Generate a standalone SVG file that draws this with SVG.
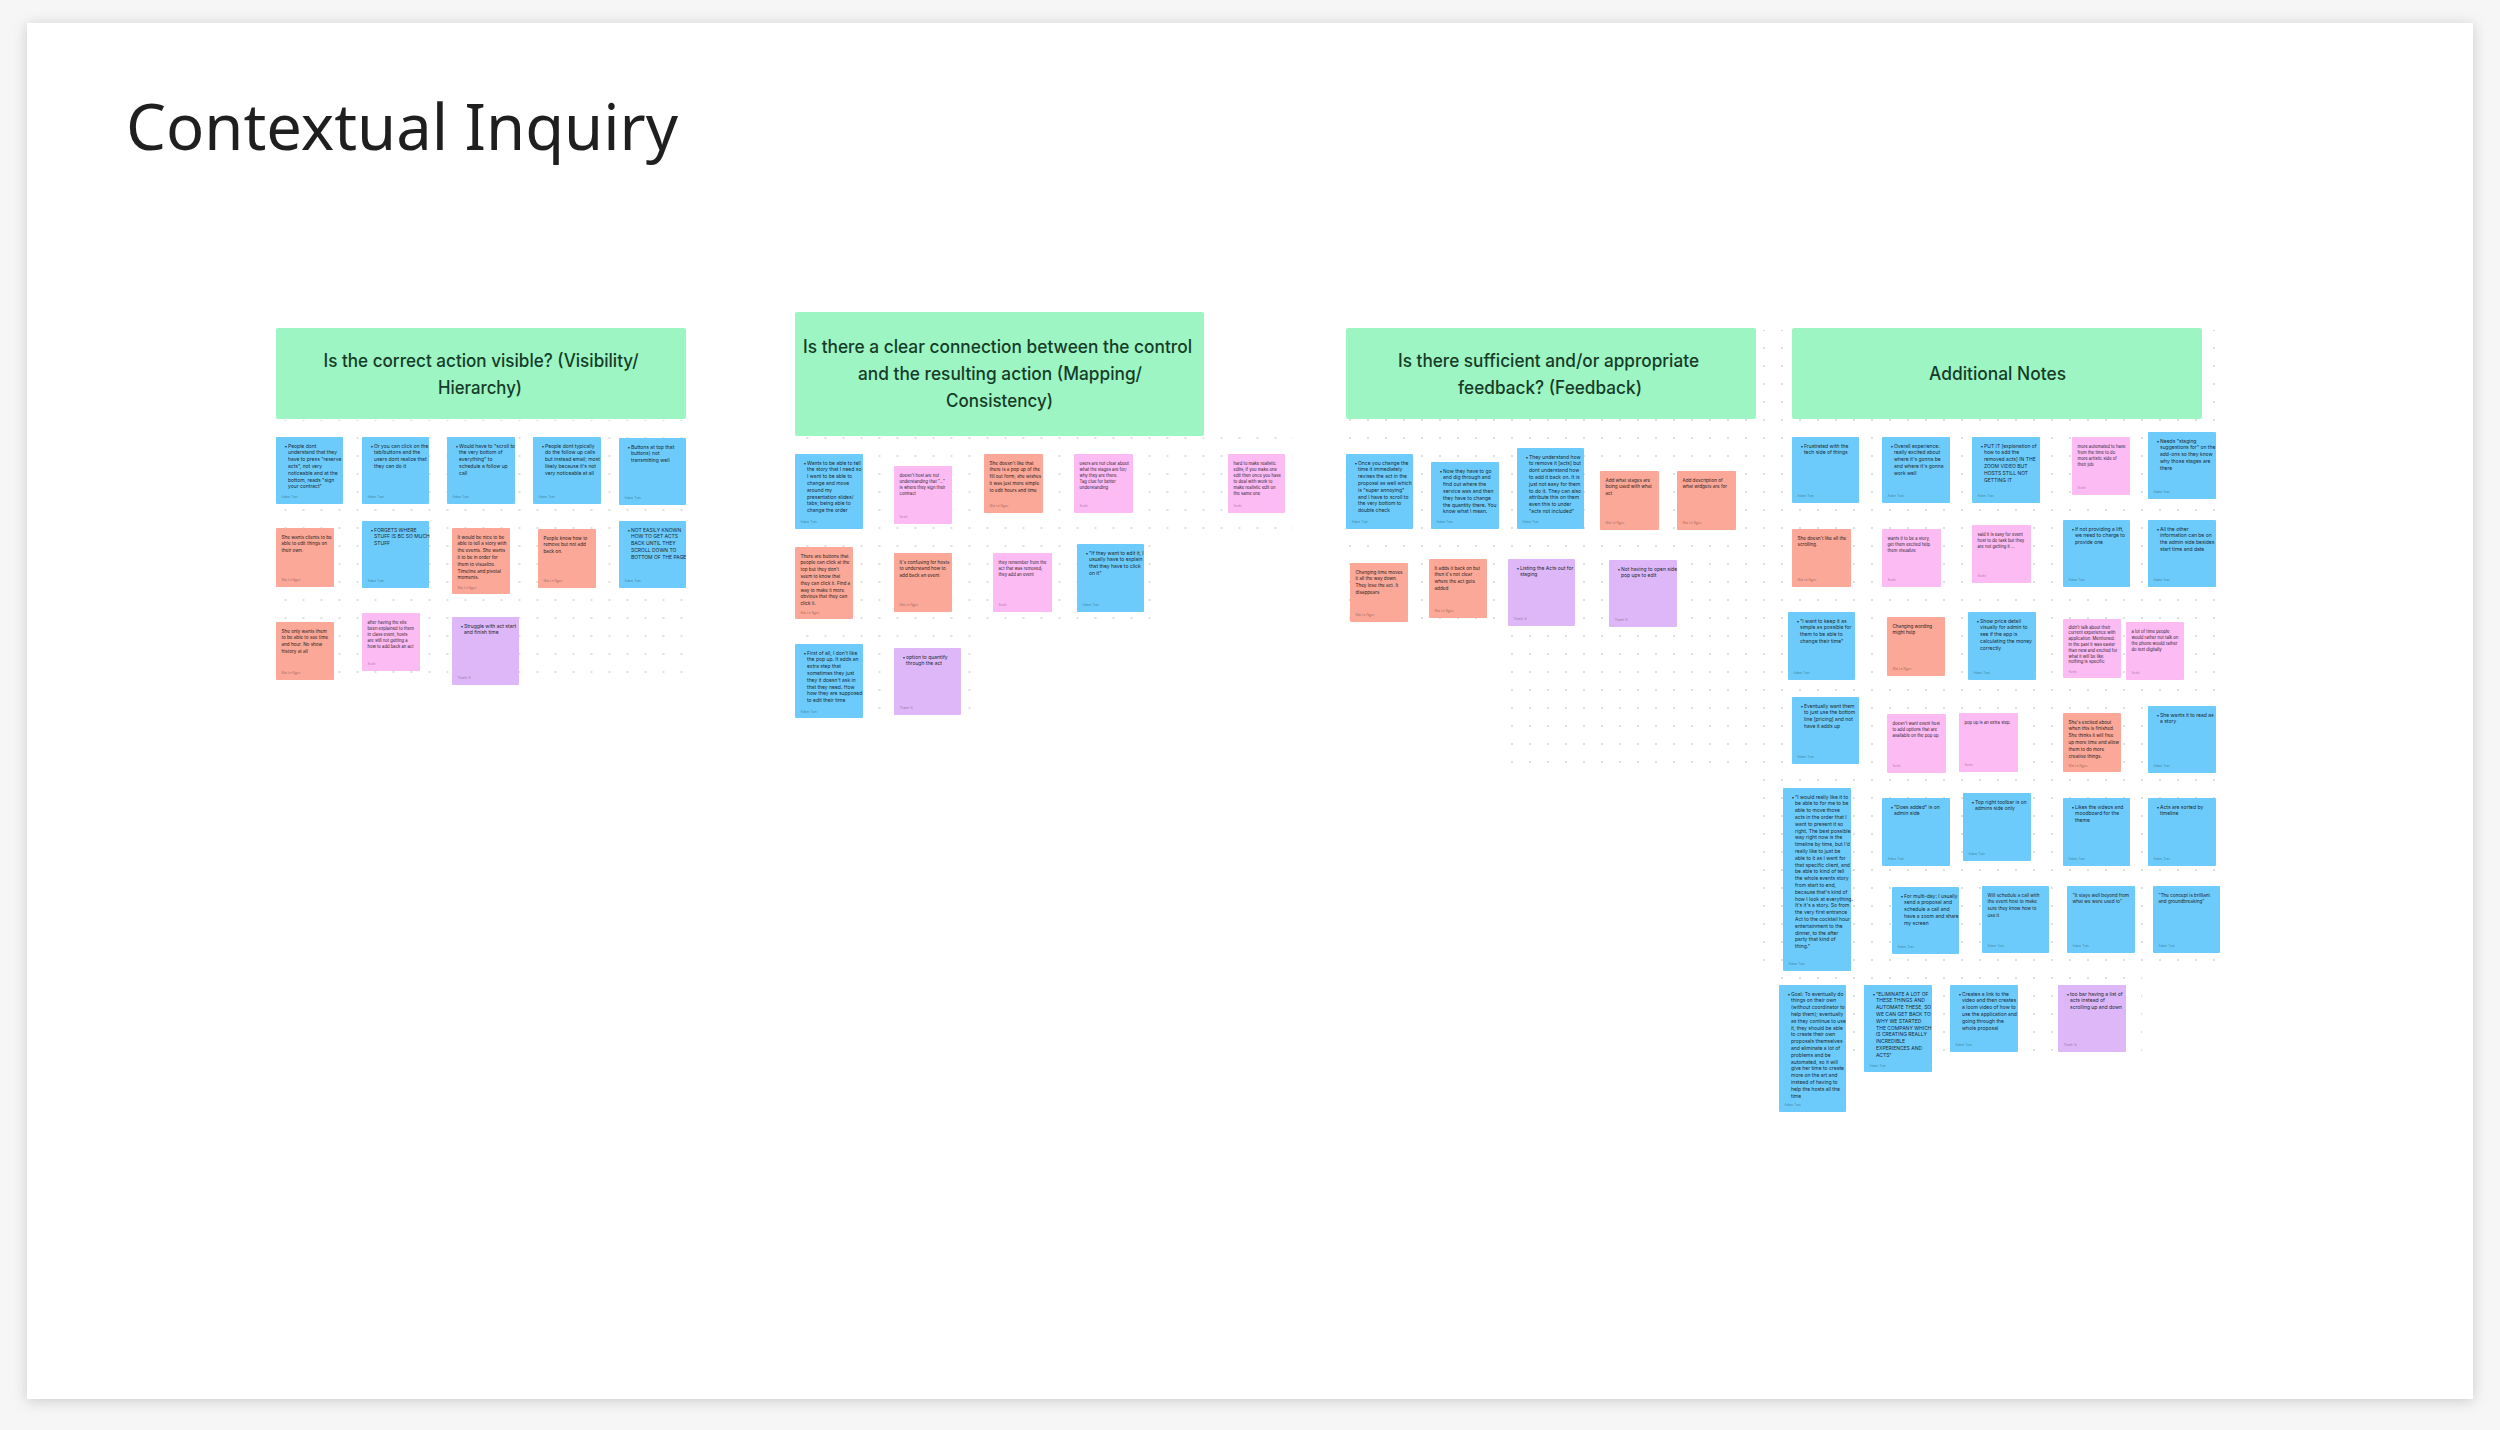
<svg xmlns="http://www.w3.org/2000/svg" width="2500" height="1430" viewBox="0 0 2500 1430">
<defs>
<style>
.hdr{fill:#9cf5c3}
.nb{fill:#6ccbfb}
.ns{fill:#fca898}
.np{fill:#fdbbf4}
.nv{fill:#ddb7f8}
.ht{font-family:Inter,"Liberation Sans",sans-serif;font-size:18px;font-weight:500;fill:#163c28;text-anchor:middle}
.t{font-family:Inter,"Liberation Sans",sans-serif;font-size:5px;fill:#1b2a33}
.s{font-family:Inter,"Liberation Sans",sans-serif;font-size:4.6px;fill:#2a1f1d}
.ps{font-family:Inter,"Liberation Sans",sans-serif;font-size:4.2px;fill:#2e1f2c}
.au{font-family:Inter,"Liberation Sans",sans-serif;font-size:3.2px;fill:#000;fill-opacity:0.4}
.title{font-family:"Noto Sans","Open Sans","Liberation Sans",sans-serif;font-size:64px;fill:#1f1f1f}
</style>
<filter id="cardShadow" x="-5%" y="-5%" width="110%" height="110%">
<feDropShadow dx="0" dy="2" stdDeviation="7" flood-color="#000" flood-opacity="0.18"/>
</filter>
<pattern id="dotsA" patternUnits="userSpaceOnUse" x="6.5" y="-3" width="18" height="18">
<circle cx="9" cy="9" r="1" fill="#d4d4d4"/>
</pattern>
<pattern id="dotsB" patternUnits="userSpaceOnUse" x="-9" y="-3" width="18" height="18">
<circle cx="9" cy="9" r="1" fill="#d4d4d4"/>
</pattern>
</defs>

<rect x="0" y="0" width="2500" height="1430" fill="#f6f6f6"/>
<rect x="27" y="23" width="2446" height="1376" fill="#ffffff" filter="url(#cardShadow)"/>

<text class="title" x="126" y="150" textLength="552" lengthAdjust="spacingAndGlyphs">Contextual Inquiry</text>

<g id="dot-grid">
<rect x="278" y="420" width="412" height="268" fill="url(#dotsA)"/>
<rect x="797" y="437" width="496" height="108" fill="url(#dotsA)"/>
<rect x="797" y="545" width="355" height="80" fill="url(#dotsA)"/>
<rect x="797" y="625" width="178" height="92" fill="url(#dotsA)"/>
<rect x="1340" y="330" width="888" height="298" fill="url(#dotsB)"/>
<rect x="1505" y="628" width="723" height="142" fill="url(#dotsB)"/>
<rect x="1758" y="770" width="470" height="200" fill="url(#dotsB)"/>
<rect x="1776" y="970" width="366" height="90" fill="url(#dotsB)"/>
</g>

<g id="connectors"/>

<!-- Section 1 -->
<g id="sec1-header">
<rect class="hdr" x="276" y="328" width="410" height="91" rx="2"/>
<text class="ht" x="481" y="367" textLength="315" lengthAdjust="spacingAndGlyphs">Is the correct action visible? (Visibility/</text>
<text class="ht" x="480" y="394" textLength="84" lengthAdjust="spacingAndGlyphs">Hierarchy)</text>
</g>
<g id="sec1-n01"><rect class="nb" x="276" y="437" width="67" height="67" rx="1"/><text class="t" x="284.5" y="447.5">•</text><text class="t" x="288" y="447.5"><tspan x="288">People dont</tspan><tspan x="288" dy="6.8">understand that they</tspan><tspan x="288" dy="6.8">have to press "reserve</tspan><tspan x="288" dy="6.8">acts", not very</tspan><tspan x="288" dy="6.8">noticeable and at the</tspan><tspan x="288" dy="6.8">bottom, reads "sign</tspan><tspan x="288" dy="6.8">your contract"</tspan></text><text class="au" x="281.5" y="497.5">Adam Tran</text></g>
<g id="sec1-n02"><rect class="nb" x="362" y="437" width="67" height="67" rx="1"/><text class="t" x="370.5" y="447.5">•</text><text class="t" x="374" y="447.5"><tspan x="374">Or you can click on the</tspan><tspan x="374" dy="6.8">tab/buttons and the</tspan><tspan x="374" dy="6.8">users dont realize that</tspan><tspan x="374" dy="6.8">they can do it</tspan></text><text class="au" x="367.5" y="497.5">Adam Tran</text></g>
<g id="sec1-n03"><rect class="nb" x="447" y="437" width="68" height="67" rx="1"/><text class="t" x="455.5" y="447.5">•</text><text class="t" x="459" y="447.5"><tspan x="459">Would have to "scroll to</tspan><tspan x="459" dy="6.8">the very bottom of</tspan><tspan x="459" dy="6.8">everything" to</tspan><tspan x="459" dy="6.8">schedule a follow up</tspan><tspan x="459" dy="6.8">call</tspan></text><text class="au" x="452.5" y="497.5">Adam Tran</text></g>
<g id="sec1-n04"><rect class="nb" x="533" y="437" width="68" height="67" rx="1"/><text class="t" x="541.5" y="447.5">•</text><text class="t" x="545" y="447.5"><tspan x="545">People dont typically</tspan><tspan x="545" dy="6.8">do the follow up calls</tspan><tspan x="545" dy="6.8">but instead email; most</tspan><tspan x="545" dy="6.8">likely because it's not</tspan><tspan x="545" dy="6.8">very noticeable at all</tspan></text><text class="au" x="538.5" y="497.5">Adam Tran</text></g>
<g id="sec1-n05"><rect class="nb" x="619" y="438" width="67" height="67" rx="1"/><text class="t" x="627.5" y="448.5">•</text><text class="t" x="631" y="448.5"><tspan x="631">Buttons at top that</tspan><tspan x="631" dy="6.8">buttons) not</tspan><tspan x="631" dy="6.8">transmitting well</tspan></text><text class="au" x="624.5" y="498.5">Adam Tran</text></g>
<g id="sec1-n06"><rect class="ns" x="276" y="528" width="58" height="59" rx="1"/><text class="s" x="281.5" y="538.5"><tspan x="281.5">She wants clients to be</tspan><tspan x="281.5" dy="6.8">able to edit things on</tspan><tspan x="281.5" dy="6.8">their own.</tspan></text><text class="au" x="281.5" y="580.5">Mai Le Ngoc</text></g>
<g id="sec1-n07"><rect class="nb" x="362" y="521" width="67" height="67" rx="1"/><text class="t" x="370.5" y="531.5">•</text><text class="t" x="374" y="531.5"><tspan x="374">FORGETS WHERE</tspan><tspan x="374" dy="6.8">STUFF IS BC SO MUCH</tspan><tspan x="374" dy="6.8">STUFF</tspan></text><text class="au" x="367.5" y="581.5">Adam Tran</text></g>
<g id="sec1-n08"><rect class="ns" x="452" y="528" width="58" height="66" rx="1"/><text class="s" x="457.5" y="538.5"><tspan x="457.5">It would be nice to be</tspan><tspan x="457.5" dy="6.8">able to tell a story with</tspan><tspan x="457.5" dy="6.8">the events. She wants</tspan><tspan x="457.5" dy="6.8">it to be in order for</tspan><tspan x="457.5" dy="6.8">them to visualize.</tspan><tspan x="457.5" dy="6.8">Timeline and pivotal</tspan><tspan x="457.5" dy="6.8">moments.</tspan></text><text class="au" x="457.5" y="589">Mai Le Ngoc</text></g>
<g id="sec1-n09"><rect class="ns" x="538" y="529" width="58" height="59" rx="1"/><text class="s" x="543.5" y="539.5"><tspan x="543.5">People know how to</tspan><tspan x="543.5" dy="6.8">remove but not add</tspan><tspan x="543.5" dy="6.8">back on.</tspan></text><text class="au" x="543.5" y="581.5">Mai Le Ngoc</text></g>
<g id="sec1-n10"><rect class="nb" x="619" y="521" width="67" height="67" rx="1"/><text class="t" x="627.5" y="531.5">•</text><text class="t" x="631" y="531.5"><tspan x="631">NOT EASILY KNOWN</tspan><tspan x="631" dy="6.8">HOW TO GET ACTS</tspan><tspan x="631" dy="6.8">BACK UNTIL THEY</tspan><tspan x="631" dy="6.8">SCROLL DOWN TO</tspan><tspan x="631" dy="6.8">BOTTOM OF THE PAGE</tspan></text><text class="au" x="624.5" y="581.5">Adam Tran</text></g>
<g id="sec1-n11"><rect class="ns" x="276" y="622" width="58" height="58" rx="1"/><text class="s" x="281.5" y="632.5"><tspan x="281.5">She only wants them</tspan><tspan x="281.5" dy="6.8">to be able to see time</tspan><tspan x="281.5" dy="6.8">and hour. No show</tspan><tspan x="281.5" dy="6.8">history at all</tspan></text><text class="au" x="281.5" y="673.5">Mai Le Ngoc</text></g>
<g id="sec1-n12"><rect class="np" x="362" y="613" width="58" height="58" rx="1"/><text class="ps" x="367.5" y="623.5"><tspan x="367.5">after having the site</tspan><tspan x="367.5" dy="6">been explained to them</tspan><tspan x="367.5" dy="6">in class event, hosts</tspan><tspan x="367.5" dy="6">are still not getting a</tspan><tspan x="367.5" dy="6">how to add back an act</tspan></text><text class="au" x="367.5" y="664.5">Sushi</text></g>
<g id="sec1-n13"><rect class="nv" x="452" y="617" width="67" height="68" rx="1"/><text class="t" x="460.5" y="627.5">•</text><text class="t" x="464" y="627.5"><tspan x="464">Struggle with act start</tspan><tspan x="464" dy="6.8">and finish time</tspan></text><text class="au" x="457.5" y="678.5">Thanh Vi</text></g>

<!-- Section 2 -->
<g id="sec2-header">
<rect class="hdr" x="795" y="312" width="409" height="124" rx="2"/>
<text class="ht" x="997.5" y="353" textLength="389" lengthAdjust="spacingAndGlyphs">Is there a clear connection between the control</text>
<text class="ht" x="1000" y="380" textLength="284" lengthAdjust="spacingAndGlyphs">and the resulting action (Mapping/</text>
<text class="ht" x="999.5" y="407" textLength="107" lengthAdjust="spacingAndGlyphs">Consistency)</text>
</g>
<g id="sec2-n01"><rect class="nb" x="795" y="454" width="68" height="75" rx="1"/><text class="t" x="803.5" y="464.5">•</text><text class="t" x="807" y="464.5"><tspan x="807">Wants to be able to tell</tspan><tspan x="807" dy="6.8">the story that I need so</tspan><tspan x="807" dy="6.8">I want to be able to</tspan><tspan x="807" dy="6.8">change and move</tspan><tspan x="807" dy="6.8">around my</tspan><tspan x="807" dy="6.8">presentation slides/</tspan><tspan x="807" dy="6.8">tabs; being able to</tspan><tspan x="807" dy="6.8">change the order</tspan></text><text class="au" x="800.5" y="522.5">Adam Tran</text></g>
<g id="sec2-n02"><rect class="np" x="894" y="466" width="58" height="58" rx="1"/><text class="ps" x="899.5" y="476.5"><tspan x="899.5">doesn't host are not</tspan><tspan x="899.5" dy="6">understanding that "..."</tspan><tspan x="899.5" dy="6">is where they sign their</tspan><tspan x="899.5" dy="6">contract</tspan></text><text class="au" x="899.5" y="517.5">Sushi</text></g>
<g id="sec2-n03"><rect class="ns" x="984" y="454" width="59" height="59" rx="1"/><text class="s" x="989.5" y="464.5"><tspan x="989.5">She doesn't like that</tspan><tspan x="989.5" dy="6.8">there is a pop up of the</tspan><tspan x="989.5" dy="6.8">fill out form; she wishes</tspan><tspan x="989.5" dy="6.8">it was just more simple</tspan><tspan x="989.5" dy="6.8">to edit hours and time</tspan></text><text class="au" x="989.5" y="506.5">Mai Le Ngoc</text></g>
<g id="sec2-n04"><rect class="np" x="1074" y="454" width="59" height="59" rx="1"/><text class="ps" x="1079.5" y="464.5"><tspan x="1079.5">users are not clear about</tspan><tspan x="1079.5" dy="6">what the stages are for/</tspan><tspan x="1079.5" dy="6">why they are there.</tspan><tspan x="1079.5" dy="6">Tag clue for better</tspan><tspan x="1079.5" dy="6">understanding</tspan></text><text class="au" x="1079.5" y="506.5">Sushi</text></g>
<g id="sec2-n05"><rect class="np" x="1228" y="454" width="57" height="59" rx="1"/><text class="ps" x="1233.5" y="464.5"><tspan x="1233.5">hard to make realistic</tspan><tspan x="1233.5" dy="6">edits; if you make one</tspan><tspan x="1233.5" dy="6">edit then once you have</tspan><tspan x="1233.5" dy="6">to deal with work to</tspan><tspan x="1233.5" dy="6">make realistic edit on</tspan><tspan x="1233.5" dy="6">the same one</tspan></text><text class="au" x="1233.5" y="506.5">Sushi</text></g>
<g id="sec2-n06"><rect class="ns" x="795" y="547" width="58" height="72" rx="1"/><text class="s" x="800.5" y="557.5"><tspan x="800.5">There are buttons that</tspan><tspan x="800.5" dy="6.8">people can click at the</tspan><tspan x="800.5" dy="6.8">top but they don't</tspan><tspan x="800.5" dy="6.8">seem to know that</tspan><tspan x="800.5" dy="6.8">they can click it. Find a</tspan><tspan x="800.5" dy="6.8">way to make it more</tspan><tspan x="800.5" dy="6.8">obvious that they can</tspan><tspan x="800.5" dy="6.8">click it.</tspan></text><text class="au" x="800.5" y="613.5">Mai Le Ngoc</text></g>
<g id="sec2-n07"><rect class="ns" x="894" y="553" width="58" height="59" rx="1"/><text class="s" x="899.5" y="563.5"><tspan x="899.5">It's confusing for hosts</tspan><tspan x="899.5" dy="6.8">to understand how to</tspan><tspan x="899.5" dy="6.8">add back an event</tspan></text><text class="au" x="899.5" y="605.5">Mai Le Ngoc</text></g>
<g id="sec2-n08"><rect class="np" x="993" y="553" width="59" height="59" rx="1"/><text class="ps" x="998.5" y="563.5"><tspan x="998.5">they remember from the</tspan><tspan x="998.5" dy="6">act that was removed;</tspan><tspan x="998.5" dy="6">they add an event</tspan></text><text class="au" x="998.5" y="605.5">Sushi</text></g>
<g id="sec2-n09"><rect class="nb" x="1077" y="544" width="67" height="68" rx="1"/><text class="t" x="1085.5" y="554.5">•</text><text class="t" x="1089" y="554.5"><tspan x="1089">"If they want to edit it, I</tspan><tspan x="1089" dy="6.8">usually have to explain</tspan><tspan x="1089" dy="6.8">that they have to click</tspan><tspan x="1089" dy="6.8">on it"</tspan></text><text class="au" x="1082.5" y="605.5">Adam Tran</text></g>
<g id="sec2-n10"><rect class="nb" x="795" y="644" width="68" height="74" rx="1"/><text class="t" x="803.5" y="654.5">•</text><text class="t" x="807" y="654.5"><tspan x="807">First of all, I don't like</tspan><tspan x="807" dy="6.8">the pop up. It adds an</tspan><tspan x="807" dy="6.8">extra step that</tspan><tspan x="807" dy="6.8">sometimes they just</tspan><tspan x="807" dy="6.8">they it doesn't ask in</tspan><tspan x="807" dy="6.8">that they need. How</tspan><tspan x="807" dy="6.8">how they are supposed</tspan><tspan x="807" dy="6.8">to edit their time</tspan></text><text class="au" x="800.5" y="712.5">Adam Tran</text></g>
<g id="sec2-n11"><rect class="nv" x="894" y="648" width="67" height="67" rx="1"/><text class="t" x="902.5" y="658.5">•</text><text class="t" x="906" y="658.5"><tspan x="906">option to quantify</tspan><tspan x="906" dy="6.8">through the act</tspan></text><text class="au" x="899.5" y="708.5">Thanh Vi</text></g>

<!-- Section 3 -->
<g id="sec3-header">
<rect class="hdr" x="1346" y="328" width="410" height="91" rx="2"/>
<text class="ht" x="1548.5" y="367" textLength="301" lengthAdjust="spacingAndGlyphs">Is there sufficient and/or appropriate</text>
<text class="ht" x="1550" y="394" textLength="184" lengthAdjust="spacingAndGlyphs">feedback? (Feedback)</text>
</g>
<g id="sec3-n01"><rect class="nb" x="1346" y="454" width="67" height="75" rx="1"/><text class="t" x="1354.5" y="464.5">•</text><text class="t" x="1358" y="464.5"><tspan x="1358">Once you change the</tspan><tspan x="1358" dy="6.8">time it immediately</tspan><tspan x="1358" dy="6.8">revises the act in the</tspan><tspan x="1358" dy="6.8">proposal as well which</tspan><tspan x="1358" dy="6.8">is "super annoying"</tspan><tspan x="1358" dy="6.8">and I have to scroll to</tspan><tspan x="1358" dy="6.8">the very bottom to</tspan><tspan x="1358" dy="6.8">double check</tspan></text><text class="au" x="1351.5" y="523">Adam Tran</text></g>
<g id="sec3-n02"><rect class="nb" x="1431" y="462" width="68" height="67" rx="1"/><text class="t" x="1439.5" y="472.5">•</text><text class="t" x="1443" y="472.5"><tspan x="1443">Now they have to go</tspan><tspan x="1443" dy="6.8">and dig through and</tspan><tspan x="1443" dy="6.8">find out where the</tspan><tspan x="1443" dy="6.8">service was and then</tspan><tspan x="1443" dy="6.8">they have to change</tspan><tspan x="1443" dy="6.8">the quantity there. You</tspan><tspan x="1443" dy="6.8">know what I mean.</tspan></text><text class="au" x="1436.5" y="523">Adam Tran</text></g>
<g id="sec3-n03"><rect class="nb" x="1517" y="448" width="67" height="81" rx="1"/><text class="t" x="1525.5" y="458.5">•</text><text class="t" x="1529" y="458.5"><tspan x="1529">They understand how</tspan><tspan x="1529" dy="6.8">to remove it [acts] but</tspan><tspan x="1529" dy="6.8">dont understand how</tspan><tspan x="1529" dy="6.8">to add it back on. It is</tspan><tspan x="1529" dy="6.8">just not easy for them</tspan><tspan x="1529" dy="6.8">to do it. They can also</tspan><tspan x="1529" dy="6.8">attribute this on them</tspan><tspan x="1529" dy="6.8">even this to under</tspan><tspan x="1529" dy="6.8">"acts not included"</tspan></text><text class="au" x="1522.5" y="523">Adam Tran</text></g>
<g id="sec3-n04"><rect class="ns" x="1600" y="471" width="59" height="59" rx="1"/><text class="s" x="1605.5" y="481.5"><tspan x="1605.5">Add what stages are</tspan><tspan x="1605.5" dy="6.8">being used with what</tspan><tspan x="1605.5" dy="6.8">act</tspan></text><text class="au" x="1605.5" y="523.5">Mai Le Ngoc</text></g>
<g id="sec3-n05"><rect class="ns" x="1677" y="471" width="59" height="59" rx="1"/><text class="s" x="1682.5" y="481.5"><tspan x="1682.5">Add description of</tspan><tspan x="1682.5" dy="6.8">what widgets are for</tspan></text><text class="au" x="1682.5" y="523.5">Mai Le Ngoc</text></g>
<g id="sec3-n06"><rect class="ns" x="1350" y="563" width="58" height="59" rx="1"/><text class="s" x="1355.5" y="573.5"><tspan x="1355.5">Changing time moves</tspan><tspan x="1355.5" dy="6.8">it all the way down.</tspan><tspan x="1355.5" dy="6.8">They lose the act. It</tspan><tspan x="1355.5" dy="6.8">disappears</tspan></text><text class="au" x="1355.5" y="615.5">Mai Le Ngoc</text></g>
<g id="sec3-n07"><rect class="ns" x="1429" y="559" width="58" height="59" rx="1"/><text class="s" x="1434.5" y="569.5"><tspan x="1434.5">It adds it back on but</tspan><tspan x="1434.5" dy="6.8">then it's not clear</tspan><tspan x="1434.5" dy="6.8">where the act gets</tspan><tspan x="1434.5" dy="6.8">added</tspan></text><text class="au" x="1434.5" y="611.5">Mai Le Ngoc</text></g>
<g id="sec3-n08"><rect class="nv" x="1508" y="559" width="67" height="67" rx="1"/><text class="t" x="1516.5" y="569.5">•</text><text class="t" x="1520" y="569.5"><tspan x="1520">Listing the Acts out for</tspan><tspan x="1520" dy="6.8">staging</tspan></text><text class="au" x="1513.5" y="619.5">Thanh Vi</text></g>
<g id="sec3-n09"><rect class="nv" x="1609" y="560" width="68" height="67" rx="1"/><text class="t" x="1617.5" y="570.5">•</text><text class="t" x="1621" y="570.5"><tspan x="1621">Not having to open side</tspan><tspan x="1621" dy="6.8">pop ups to edit</tspan></text><text class="au" x="1614.5" y="620.5">Thanh Vi</text></g>

<!-- Section 4 -->
<g id="sec4-header">
<rect class="hdr" x="1792" y="328" width="410" height="91" rx="2"/>
<text class="ht" x="1997.5" y="380" textLength="137" lengthAdjust="spacingAndGlyphs">Additional Notes</text>
</g>
<g id="sec4-n01"><rect class="nb" x="1792" y="437" width="67" height="66" rx="1"/><text class="t" x="1800.5" y="447.5">•</text><text class="t" x="1804" y="447.5"><tspan x="1804">Frustrated with the</tspan><tspan x="1804" dy="6.8">tech side of things</tspan></text><text class="au" x="1797.5" y="496.5">Adam Tran</text></g>
<g id="sec4-n02"><rect class="nb" x="1882" y="437" width="68" height="66" rx="1"/><text class="t" x="1890.5" y="447.5">•</text><text class="t" x="1894" y="447.5"><tspan x="1894">Overall experience:</tspan><tspan x="1894" dy="6.8">really excited about</tspan><tspan x="1894" dy="6.8">where it's gonna be</tspan><tspan x="1894" dy="6.8">and where it's gonna</tspan><tspan x="1894" dy="6.8">work well</tspan></text><text class="au" x="1887.5" y="496.5">Adam Tran</text></g>
<g id="sec4-n03"><rect class="nb" x="1972" y="437" width="68" height="66" rx="1"/><text class="t" x="1980.5" y="447.5">•</text><text class="t" x="1984" y="447.5"><tspan x="1984">PUT IT [explanation of</tspan><tspan x="1984" dy="6.8">how to add the</tspan><tspan x="1984" dy="6.8">removed acts] IN THE</tspan><tspan x="1984" dy="6.8">ZOOM VIDEO BUT</tspan><tspan x="1984" dy="6.8">HOSTS STILL NOT</tspan><tspan x="1984" dy="6.8">GETTING IT</tspan></text><text class="au" x="1977.5" y="496.5">Adam Tran</text></g>
<g id="sec4-n04"><rect class="np" x="2072" y="437" width="58" height="58" rx="1"/><text class="ps" x="2077.5" y="447.5"><tspan x="2077.5">more automated to have</tspan><tspan x="2077.5" dy="6">from the time to do</tspan><tspan x="2077.5" dy="6">more artistic side of</tspan><tspan x="2077.5" dy="6">their job</tspan></text><text class="au" x="2077.5" y="488.5">Sushi</text></g>
<g id="sec4-n05"><rect class="nb" x="2148" y="432" width="68" height="67" rx="1"/><text class="t" x="2156.5" y="442.5">•</text><text class="t" x="2160" y="442.5"><tspan x="2160">Needs "staging</tspan><tspan x="2160" dy="6.8">suggestions for" on the</tspan><tspan x="2160" dy="6.8">add-ons so they know</tspan><tspan x="2160" dy="6.8">why those stages are</tspan><tspan x="2160" dy="6.8">there</tspan></text><text class="au" x="2153.5" y="492.5">Adam Tran</text></g>
<g id="sec4-n06"><rect class="ns" x="1792" y="529" width="59" height="58" rx="1"/><text class="s" x="1797.5" y="539.5"><tspan x="1797.5">She doesn't like all the</tspan><tspan x="1797.5" dy="6.8">scrolling.</tspan></text><text class="au" x="1797.5" y="580.5">Mai Le Ngoc</text></g>
<g id="sec4-n07"><rect class="np" x="1882" y="529" width="59" height="58" rx="1"/><text class="ps" x="1887.5" y="539.5"><tspan x="1887.5">wants it to be a story,</tspan><tspan x="1887.5" dy="6">get them excited help</tspan><tspan x="1887.5" dy="6">them visualize</tspan></text><text class="au" x="1887.5" y="580.5">Sushi</text></g>
<g id="sec4-n08"><rect class="np" x="1972" y="525" width="59" height="58" rx="1"/><text class="ps" x="1977.5" y="535.5"><tspan x="1977.5">said it is easy for event</tspan><tspan x="1977.5" dy="6">host to do task but they</tspan><tspan x="1977.5" dy="6">are not getting it ...</tspan></text><text class="au" x="1977.5" y="576.5">Sushi</text></g>
<g id="sec4-n09"><rect class="nb" x="2063" y="520" width="67" height="67" rx="1"/><text class="t" x="2071.5" y="530.5">•</text><text class="t" x="2075" y="530.5"><tspan x="2075">If not providing a lift,</tspan><tspan x="2075" dy="6.8">we need to charge to</tspan><tspan x="2075" dy="6.8">provide one</tspan></text><text class="au" x="2068.5" y="580.5">Adam Tran</text></g>
<g id="sec4-n10"><rect class="nb" x="2148" y="520" width="68" height="67" rx="1"/><text class="t" x="2156.5" y="530.5">•</text><text class="t" x="2160" y="530.5"><tspan x="2160">All the other</tspan><tspan x="2160" dy="6.8">information can be on</tspan><tspan x="2160" dy="6.8">the admin side besides</tspan><tspan x="2160" dy="6.8">start time and date</tspan></text><text class="au" x="2153.5" y="580.5">Adam Tran</text></g>
<g id="sec4-n11"><rect class="nb" x="1788" y="612" width="67" height="68" rx="1"/><text class="t" x="1796.5" y="622.5">•</text><text class="t" x="1800" y="622.5"><tspan x="1800">"I want to keep it as</tspan><tspan x="1800" dy="6.8">simple as possible for</tspan><tspan x="1800" dy="6.8">them to be able to</tspan><tspan x="1800" dy="6.8">change their time"</tspan></text><text class="au" x="1793.5" y="673.5">Adam Tran</text></g>
<g id="sec4-n12"><rect class="ns" x="1887" y="617" width="58" height="59" rx="1"/><text class="s" x="1892.5" y="627.5"><tspan x="1892.5">Changing wording</tspan><tspan x="1892.5" dy="6.8">might help</tspan></text><text class="au" x="1892.5" y="669.5">Mai Le Ngoc</text></g>
<g id="sec4-n13"><rect class="nb" x="1968" y="612" width="68" height="68" rx="1"/><text class="t" x="1976.5" y="622.5">•</text><text class="t" x="1980" y="622.5"><tspan x="1980">Show price detail</tspan><tspan x="1980" dy="6.8">visually for admin to</tspan><tspan x="1980" dy="6.8">see if the app is</tspan><tspan x="1980" dy="6.8">calculating the money</tspan><tspan x="1980" dy="6.8">correctly</tspan></text><text class="au" x="1973.5" y="673.5">Adam Tran</text></g>
<g id="sec4-n14"><rect class="np" x="2063" y="619" width="58" height="59" rx="1"/><text class="ps" x="2068.5" y="628.5"><tspan x="2068.5">didn't talk about their</tspan><tspan x="2068.5" dy="5.8">current experience with</tspan><tspan x="2068.5" dy="5.8">application. Mentioned:</tspan><tspan x="2068.5" dy="5.8">in the past it was easier</tspan><tspan x="2068.5" dy="5.8">than new and excited for</tspan><tspan x="2068.5" dy="5.8">what it will be like</tspan><tspan x="2068.5" dy="5.8">nothing is specific</tspan></text><text class="au" x="2068.5" y="672.5">Sushi</text></g>
<g id="sec4-n15"><rect class="np" x="2126" y="622" width="58" height="58" rx="1"/><text class="ps" x="2131.5" y="632.5"><tspan x="2131.5">a lot of time people</tspan><tspan x="2131.5" dy="6">would rather not talk on</tspan><tspan x="2131.5" dy="6">the phone would rather</tspan><tspan x="2131.5" dy="6">do text digitally</tspan></text><text class="au" x="2131.5" y="673.5">Sushi</text></g>
<g id="sec4-n16"><rect class="nb" x="1792" y="697" width="67" height="67" rx="1"/><text class="t" x="1800.5" y="707.5">•</text><text class="t" x="1804" y="707.5"><tspan x="1804">Eventually want them</tspan><tspan x="1804" dy="6.8">to just use the bottom</tspan><tspan x="1804" dy="6.8">line [pricing] and not</tspan><tspan x="1804" dy="6.8">have it adds up</tspan></text><text class="au" x="1797.5" y="757.5">Adam Tran</text></g>
<g id="sec4-n17"><rect class="np" x="1887" y="714" width="59" height="59" rx="1"/><text class="ps" x="1892.5" y="724.5"><tspan x="1892.5">doesn't want event host</tspan><tspan x="1892.5" dy="6">to add options that are</tspan><tspan x="1892.5" dy="6">available on the pop up</tspan></text><text class="au" x="1892.5" y="766.5">Sushi</text></g>
<g id="sec4-n18"><rect class="np" x="1959" y="713" width="59" height="59" rx="1"/><text class="ps" x="1964.5" y="723.5">pop up is an extra step</text><text class="au" x="1964.5" y="765.5">Sushi</text></g>
<g id="sec4-n19"><rect class="ns" x="2063" y="713" width="58" height="59" rx="1"/><text class="s" x="2068.5" y="723.5"><tspan x="2068.5">She's excited about</tspan><tspan x="2068.5" dy="6.8">when this is finished.</tspan><tspan x="2068.5" dy="6.8">She thinks it will free</tspan><tspan x="2068.5" dy="6.8">up more time and allow</tspan><tspan x="2068.5" dy="6.8">them to do more</tspan><tspan x="2068.5" dy="6.8">creative things.</tspan></text><text class="au" x="2068.5" y="766.5">Mai Le Ngoc</text></g>
<g id="sec4-n20"><rect class="nb" x="2148" y="706" width="68" height="67" rx="1"/><text class="t" x="2156.5" y="716.5">•</text><text class="t" x="2160" y="716.5"><tspan x="2160">She wants it to read as</tspan><tspan x="2160" dy="6.8">a story</tspan></text><text class="au" x="2153.5" y="766.5">Adam Tran</text></g>
<g id="sec4-n21"><rect class="nb" x="1783" y="788" width="68" height="183" rx="1"/><text class="t" x="1791.5" y="798.5">•</text><text class="t" x="1795" y="798.5"><tspan x="1795">"I would really like it to</tspan><tspan x="1795" dy="6.8">be able to for me to be</tspan><tspan x="1795" dy="6.8">able to move those</tspan><tspan x="1795" dy="6.8">acts in the order that I</tspan><tspan x="1795" dy="6.8">want to present it so</tspan><tspan x="1795" dy="6.8">right. The best possible</tspan><tspan x="1795" dy="6.8">way right now is the</tspan><tspan x="1795" dy="6.8">timeline by time, but I'd</tspan><tspan x="1795" dy="6.8">really like to just be</tspan><tspan x="1795" dy="6.8">able to it as I want for</tspan><tspan x="1795" dy="6.8">that specific client, and</tspan><tspan x="1795" dy="6.8">be able to kind of tell</tspan><tspan x="1795" dy="6.8">the whole events story</tspan><tspan x="1795" dy="6.8">from start to end,</tspan><tspan x="1795" dy="6.8">because that's kind of</tspan><tspan x="1795" dy="6.8">how I look at everything.</tspan><tspan x="1795" dy="6.8">It's it's a story. So from</tspan><tspan x="1795" dy="6.8">the very first entrance</tspan><tspan x="1795" dy="6.8">Act to the cocktail hour</tspan><tspan x="1795" dy="6.8">entertainment to the</tspan><tspan x="1795" dy="6.8">dinner, to the after</tspan><tspan x="1795" dy="6.8">party that kind of</tspan><tspan x="1795" dy="6.8">thing."</tspan></text><text class="au" x="1788.5" y="964.5">Adam Tran</text></g>
<g id="sec4-n22"><rect class="nb" x="1882" y="798" width="68" height="68" rx="1"/><text class="t" x="1890.5" y="808.5">•</text><text class="t" x="1894" y="808.5"><tspan x="1894">"Does added" is on</tspan><tspan x="1894" dy="6.8">admin side</tspan></text><text class="au" x="1887.5" y="859.5">Adam Tran</text></g>
<g id="sec4-n23"><rect class="nb" x="1963" y="793" width="68" height="68" rx="1"/><text class="t" x="1971.5" y="803.5">•</text><text class="t" x="1975" y="803.5"><tspan x="1975">Top right toolbar is on</tspan><tspan x="1975" dy="6.8">admins side only</tspan></text><text class="au" x="1968.5" y="854.5">Adam Tran</text></g>
<g id="sec4-n24"><rect class="nb" x="2063" y="798" width="67" height="68" rx="1"/><text class="t" x="2071.5" y="808.5">•</text><text class="t" x="2075" y="808.5"><tspan x="2075">Likes the videos and</tspan><tspan x="2075" dy="6.8">moodboard for the</tspan><tspan x="2075" dy="6.8">theme</tspan></text><text class="au" x="2068.5" y="859.5">Adam Tran</text></g>
<g id="sec4-n25"><rect class="nb" x="2148" y="798" width="68" height="68" rx="1"/><text class="t" x="2156.5" y="808.5">•</text><text class="t" x="2160" y="808.5"><tspan x="2160">Acts are sorted by</tspan><tspan x="2160" dy="6.8">timeline</tspan></text><text class="au" x="2153.5" y="859.5">Adam Tran</text></g>
<g id="sec4-n26"><rect class="nb" x="1892" y="887" width="67" height="67" rx="1"/><text class="t" x="1900.5" y="897.5">•</text><text class="t" x="1904" y="897.5"><tspan x="1904">For multi-day: I usually</tspan><tspan x="1904" dy="6.8">send a proposal and</tspan><tspan x="1904" dy="6.8">schedule a call and</tspan><tspan x="1904" dy="6.8">have a zoom and share</tspan><tspan x="1904" dy="6.8">my screen</tspan></text><text class="au" x="1897.5" y="947.5">Adam Tran</text></g>
<g id="sec4-n27"><rect class="nb" x="1982" y="886" width="67" height="67" rx="1"/><text class="s" x="1987.5" y="896.5"><tspan x="1987.5">Will schedule a call with</tspan><tspan x="1987.5" dy="6.8">the event host to make</tspan><tspan x="1987.5" dy="6.8">sure they know how to</tspan><tspan x="1987.5" dy="6.8">use it</tspan></text><text class="au" x="1987.5" y="946.5">Adam Tran</text></g>
<g id="sec4-n28"><rect class="nb" x="2067" y="886" width="68" height="67" rx="1"/><text class="s" x="2072.5" y="896.5"><tspan x="2072.5">"It stays well beyond from</tspan><tspan x="2072.5" dy="6.8">what we were used to"</tspan></text><text class="au" x="2072.5" y="946.5">Adam Tran</text></g>
<g id="sec4-n29"><rect class="nb" x="2153" y="886" width="67" height="67" rx="1"/><text class="s" x="2158.5" y="896.5"><tspan x="2158.5">"The concept is brilliant</tspan><tspan x="2158.5" dy="6.8">and groundbreaking"</tspan></text><text class="au" x="2158.5" y="946.5">Adam Tran</text></g>
<g id="sec4-n30"><rect class="nb" x="1779" y="985" width="67" height="127" rx="1"/><text class="t" x="1787.5" y="995.5">•</text><text class="t" x="1791" y="995.5"><tspan x="1791">Goal: To eventually do</tspan><tspan x="1791" dy="6.8">things on their own</tspan><tspan x="1791" dy="6.8">(without coordinator to</tspan><tspan x="1791" dy="6.8">help them); eventually</tspan><tspan x="1791" dy="6.8">as they continue to use</tspan><tspan x="1791" dy="6.8">it, they should be able</tspan><tspan x="1791" dy="6.8">to create their own</tspan><tspan x="1791" dy="6.8">proposals themselves</tspan><tspan x="1791" dy="6.8">and eliminate a lot of</tspan><tspan x="1791" dy="6.8">problems and be</tspan><tspan x="1791" dy="6.8">automated, so it will</tspan><tspan x="1791" dy="6.8">give her time to create</tspan><tspan x="1791" dy="6.8">more on the art and</tspan><tspan x="1791" dy="6.8">instead of having to</tspan><tspan x="1791" dy="6.8">help the hosts all the</tspan><tspan x="1791" dy="6.8">time</tspan></text><text class="au" x="1784.5" y="1106">Adam Tran</text></g>
<g id="sec4-n31"><rect class="nb" x="1864" y="985" width="68" height="87" rx="1"/><text class="t" x="1872.5" y="995.5">•</text><text class="t" x="1876" y="995.5"><tspan x="1876">"ELIMINATE A LOT OF</tspan><tspan x="1876" dy="6.8">THESE THINGS AND</tspan><tspan x="1876" dy="6.8">AUTOMATE THESE, SO</tspan><tspan x="1876" dy="6.8">WE CAN GET BACK TO</tspan><tspan x="1876" dy="6.8">WHY WE STARTED</tspan><tspan x="1876" dy="6.8">THE COMPANY WHICH</tspan><tspan x="1876" dy="6.8">IS CREATING REALLY</tspan><tspan x="1876" dy="6.8">INCREDIBLE</tspan><tspan x="1876" dy="6.8">EXPERIENCES AND</tspan><tspan x="1876" dy="6.8">ACTS"</tspan></text><text class="au" x="1869.5" y="1066.5">Adam Tran</text></g>
<g id="sec4-n32"><rect class="nb" x="1950" y="985" width="68" height="67" rx="1"/><text class="t" x="1958.5" y="995.5">•</text><text class="t" x="1962" y="995.5"><tspan x="1962">Creates a link to the</tspan><tspan x="1962" dy="6.8">video and then creates</tspan><tspan x="1962" dy="6.8">a loom video of how to</tspan><tspan x="1962" dy="6.8">use the application and</tspan><tspan x="1962" dy="6.8">going through the</tspan><tspan x="1962" dy="6.8">whole proposal</tspan></text><text class="au" x="1955.5" y="1045.5">Adam Tran</text></g>
<g id="sec4-n33"><rect class="nv" x="2058" y="985" width="68" height="67" rx="1"/><text class="t" x="2066.5" y="995.5">•</text><text class="t" x="2070" y="995.5"><tspan x="2070">too bar having a list of</tspan><tspan x="2070" dy="6.8">acts instead of</tspan><tspan x="2070" dy="6.8">scrolling up and down</tspan></text><text class="au" x="2063.5" y="1045.5">Thanh Vi</text></g>
</svg>
